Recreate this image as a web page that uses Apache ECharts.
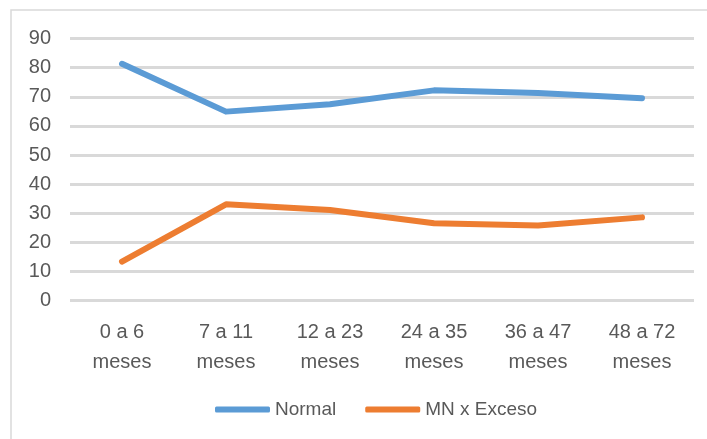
<!DOCTYPE html>
<html>
<head>
<meta charset="utf-8">
<script src="https://cdn.jsdelivr.net/npm/echarts@6/dist/echarts.min.js"></script>
<style>
  html, body { margin: 0; padding: 0; background: #fff; }
  #chart { width: 707px; height: 439px; }
</style>
</head>
<body>
<div id="chart"></div>
<script>
// Age groups (months) on the category axis
const categories = ['0 a 6\nmeses', '7 a 11\nmeses', '12 a 23\nmeses', '24 a 35\nmeses', '36 a 47\nmeses', '48 a 72\nmeses'];
// Percent of children per nutritional status
const normalValues = [81.3, 64.9, 67.4, 72.2, 71.3, 69.5];
const excesoValues = [13.4, 33.1, 31.1, 26.6, 25.8, 28.6];
const seriesNames = ['Normal', 'MN x Exceso'];

const textColor = '#595959';
const fontFamily = '"Liberation Sans", Arial, sans-serif';

const chart = echarts.init(document.getElementById('chart'), null, { renderer: 'canvas' });

chart.setOption({
  animation: false,
  backgroundColor: '#fff',
  graphic: [{
    type: 'rect',
    shape: { x: 11, y: 10, width: 700, height: 440 },
    style: { fill: 'none', stroke: '#d9d9d9', lineWidth: 1.5 },
    silent: true
  }],
  grid: { left: 70, right: 13, top: 38.5, bottom: 138.3 },
  legend: {
    bottom: 15,
    left: 210,
    itemWidth: 55,
    itemHeight: 6,
    itemGap: 29,
    icon: 'roundRect',
    textStyle: { color: textColor, fontSize: 19, fontFamily: fontFamily },
    data: seriesNames
  },
  xAxis: {
    type: 'category',
    data: categories,
    boundaryGap: true,
    axisLine: { show: false },
    axisTick: { show: false },
    axisLabel: {
      color: textColor,
      fontSize: 20,
      fontFamily: fontFamily,
      lineHeight: 30,
      margin: 17
    }
  },
  yAxis: {
    type: 'value',
    min: 0,
    max: 90,
    interval: 10,
    axisLine: { show: false },
    axisTick: { show: false },
    axisLabel: {
      color: textColor,
      fontSize: 20,
      fontFamily: fontFamily,
      margin: 19
    },
    splitLine: { lineStyle: { color: '#d9d9d9', width: 3 } }
  },
  series: [
    {
      name: seriesNames[0],
      type: 'line',
      data: normalValues,
      showSymbol: false,
      symbol: 'none',
      lineStyle: { color: '#5b9bd5', width: 6, cap: 'round', join: 'round' },
      itemStyle: { color: '#5b9bd5' }
    },
    {
      name: seriesNames[1],
      type: 'line',
      data: excesoValues,
      showSymbol: false,
      symbol: 'none',
      lineStyle: { color: '#ed7d31', width: 6, cap: 'round', join: 'round' },
      itemStyle: { color: '#ed7d31' }
    }
  ]
});
</script>
</body>
</html>
